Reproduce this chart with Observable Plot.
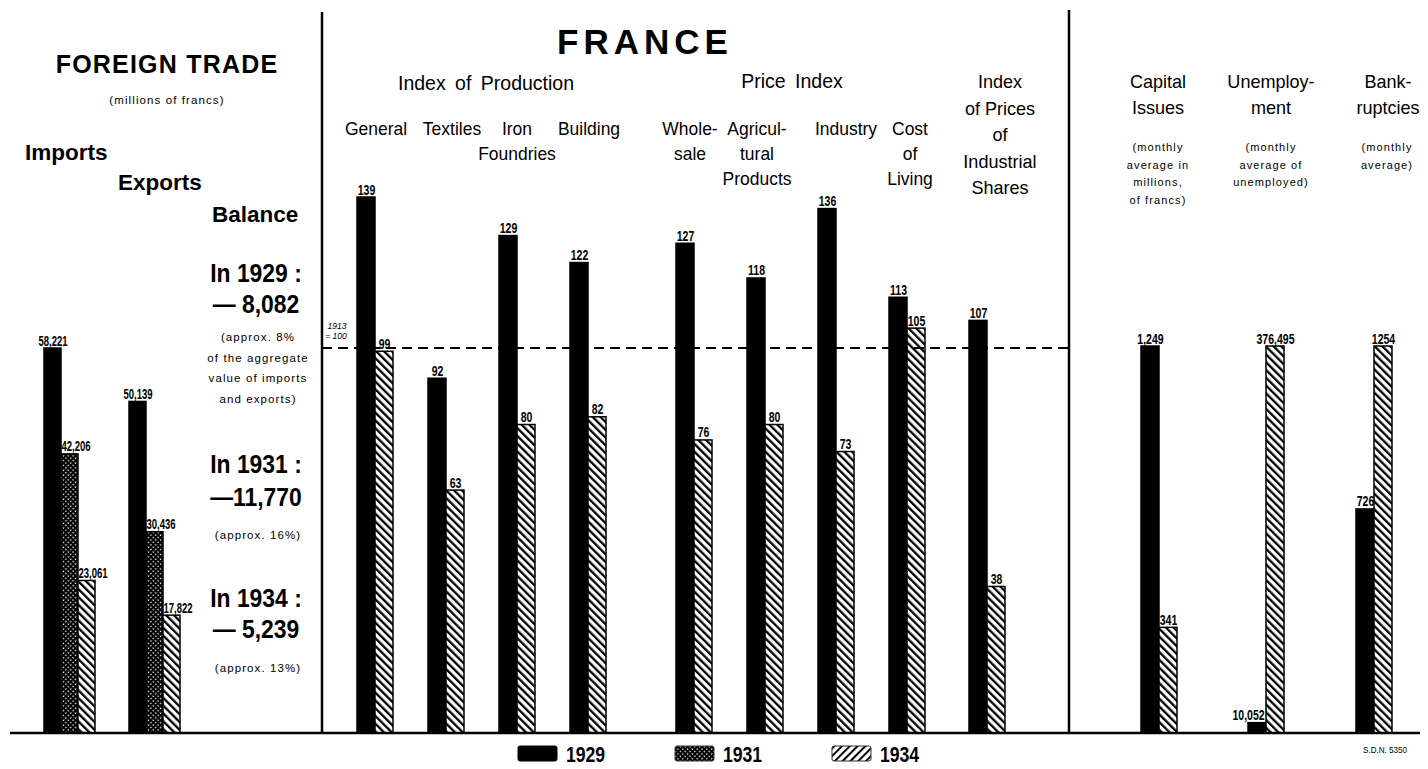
<!DOCTYPE html>
<html>
<head>
<meta charset="utf-8">
<script src="https://cdn.jsdelivr.net/npm/d3@7"></script>
<script src="https://cdn.jsdelivr.net/npm/@observablehq/plot@0.6"></script>
<style>
html, body { margin: 0; padding: 0; background: #fff; }
#chart { position: relative; width: 1428px; height: 769px; overflow: hidden; background: #fff; }
</style>
</head>
<body>
<div id="chart"></div>
<script>
// ---------------- DATA ----------------
const years3 = ["1929", "1931", "1934"];
const years2 = ["1929", "1934"];

const tradeGroups = ["Imports", "Exports"];
const imports = [58221, 42206, 23061];
const exportsVals = [50139, 30436, 17822];
const balanceLabels = ["— 8,082", "—11,770", "— 5,239"];
const balanceNotes = [
  ["(approx. 8%", "of the aggregate", "value of imports", "and exports)"],
  ["(approx. 16%)"],
  ["(approx. 13%)"]
];

const productionCats = ["General", "Textiles", "Iron Foundries", "Building"];
const production1929 = [139, 92, 129, 122];
const production1934 = [99, 63, 80, 82];

const priceCats = ["Wholesale", "Agricultural Products", "Industry", "Cost of Living"];
const price1929 = [127, 118, 136, 113];
const price1934 = [76, 80, 73, 105];

const sharesCats = ["Index of Prices of Industrial Shares"];
const shares1929 = [107];
const shares1934 = [38];

const otherCats = ["Capital Issues", "Unemployment", "Bankruptcies"];
const other1929 = [1249, 10052, 726];
const other1934 = [341, 376495, 1254];
const otherLabels1929 = ["1,249", "10,052", "726"];
const otherLabels1934 = ["341", "376,495", "1254"];

const baseIndex = 100; // 1913 = 100

// ---------------- LAYOUT ----------------
const W = 1428, H = 769, BASE = 733;
const SANS = "'Liberation Sans', Arial, Helvetica, sans-serif";
const chart = document.getElementById("chart");
const FILL = { "1929": "black", "1931": "url(#p1931)", "1934": "url(#p1934)" };

// pattern defs
const defsSvg = d3.select(chart).append("svg")
  .attr("width", 0).attr("height", 0)
  .style("position", "absolute").style("left", 0).style("top", 0);
const defs = defsSvg.append("defs");
function stripePattern(id, angle, period, w) {
  const p = defs.append("pattern").attr("id", id)
    .attr("patternUnits", "userSpaceOnUse")
    .attr("width", period).attr("height", period)
    .attr("patternTransform", `rotate(${angle})`);
  p.append("rect").attr("width", period).attr("height", period).attr("fill", "white");
  p.append("rect").attr("width", w).attr("height", period).attr("fill", "black");
}
stripePattern("p1934", -45, 5.5, 2.3);
stripePattern("p1934L", 45, 5.5, 2.0);
{
  const p = defs.append("pattern").attr("id", "p1931")
    .attr("patternUnits", "userSpaceOnUse")
    .attr("width", 3.4).attr("height", 3.4)
    .attr("patternTransform", "rotate(45)");
  p.append("rect").attr("width", 3.4).attr("height", 3.4).attr("fill", "white");
  p.append("rect").attr("width", 2.1).attr("height", 3.4).attr("fill", "black");
  p.append("rect").attr("width", 3.4).attr("height", 2.1).attr("fill", "black");
}

function condense(sel, k) {
  sel.each(function () {
    const L = this.getComputedTextLength();
    if (L > 0) {
      this.setAttribute("textLength", L * k);
      this.setAttribute("lengthAdjust", "spacingAndGlyphs");
    }
  });
}

function place(node) {
  node.style.position = "absolute";
  node.style.left = "0px";
  node.style.top = "0px";
  node.style.background = "transparent";
  node.style.overflow = "visible";
  node.style.maxWidth = "none";
  chart.appendChild(node);
  return node;
}

function barPanel({ cats, yrs, series, labels, left, right, top, pad, yMax, fs = 15, dx = {}, k = 0.7 }) {
  const data = [];
  cats.forEach((c, i) => yrs.forEach((yr, j) => data.push({
    cat: c, year: yr, value: series[j][i],
    label: labels ? labels[j][i] : d3.format(",")(series[j][i])
  })));
  const marks = [];
  yrs.forEach(yr => marks.push(Plot.barY(data.filter(d => d.year === yr), {
    fx: "cat", x: "year", y: "value", fill: FILL[yr], stroke: "black", strokeWidth: 1.5
  })));
  yrs.forEach(yr => marks.push(Plot.text(data.filter(d => d.year === yr), {
    fx: "cat", x: "year", y: "value", text: "label", lineAnchor: "bottom",
    dy: -3, dx: dx[yr] || 0, fontSize: fs, fontWeight: "bold", fontFamily: SANS, fill: "black"
  })));
  const node = Plot.plot({
    width: W, height: H,
    marginLeft: left, marginRight: W - right, marginTop: top, marginBottom: H - BASE,
    fx: { domain: cats, paddingInner: pad, paddingOuter: 0, axis: null, label: null },
    x: { domain: yrs, padding: 0, axis: null, label: null },
    y: { domain: [0, yMax], axis: null, label: null },
    marks
  });
  place(node);
  condense(d3.select(node).selectAll("g[aria-label='text'] text"), k);
  return node;
}

// Foreign trade panel
barPanel({
  cats: tradeGroups, yrs: years3,
  series: years3.map((_, j) => [imports[j], exportsVals[j]]),
  left: 42, right: 182, top: 348, pad: 0.372,
  yMax: d3.max(imports.concat(exportsVals)), fs: 14, dx: { "1931": 6, "1934": 6 }, k: 0.68
});

// France middle panels (common scale)
const middleMax = d3.max([...production1929, ...production1934, ...price1929, ...price1934, ...shares1929, ...shares1934]);
barPanel({ cats: productionCats, yrs: years2, series: [production1929, production1934],
  left: 357, right: 607, top: 197, pad: 0.486, yMax: middleMax });
barPanel({ cats: priceCats, yrs: years2, series: [price1929, price1934],
  left: 676, right: 926, top: 197, pad: 0.486, yMax: middleMax });
barPanel({ cats: sharesCats, yrs: years2, series: [shares1929, shares1934],
  left: 969, right: 1005, top: 197, pad: 0, yMax: middleMax });

// dashed 1913 = 100 line
place(Plot.plot({
  width: W, height: H, marginLeft: 322, marginRight: W - 1069, marginTop: 197, marginBottom: H - BASE,
  y: { domain: [0, middleMax], axis: null },
  marks: [Plot.ruleY([baseIndex], { stroke: "black", strokeWidth: 2, strokeDasharray: "10,6" })]
}));

// right panels, each with its own scale
const rightLeft = [1140, 1247, 1355];
otherCats.forEach((c, i) => {
  barPanel({
    cats: [c], yrs: years2,
    series: [[other1929[i]], [other1934[i]]],
    labels: [[otherLabels1929[i]], [otherLabels1934[i]]],
    left: rightLeft[i], right: rightLeft[i] + 37, top: 346, pad: 0,
    yMax: Math.max(other1929[i], other1934[i]),
    dx: i === 1 ? { "1929": -9 } : {}
  });
});

// ---------------- ANNOTATIONS ----------------
const ov = d3.select(chart).append("svg")
  .attr("width", W).attr("height", H)
  .style("position", "absolute").style("left", 0).style("top", 0)
  .style("font-family", SANS);

// frame lines
ov.append("line").attr("x1", 10).attr("x2", 1420).attr("y1", BASE).attr("y2", BASE)
  .attr("stroke", "black").attr("stroke-width", 2.5);
ov.append("line").attr("x1", 322).attr("x2", 322).attr("y1", 12).attr("y2", BASE + 1)
  .attr("stroke", "black").attr("stroke-width", 2.5);
ov.append("line").attr("x1", 1069).attr("x2", 1069).attr("y1", 10).attr("y2", BASE + 1)
  .attr("stroke", "black").attr("stroke-width", 2.5);

function tx(t, x, y, o = {}) {
  const el = ov.append("text").attr("x", x).attr("y", y)
    .attr("text-anchor", o.a || "middle")
    .attr("font-size", o.fs || 19.5)
    .attr("font-weight", o.fw || 400)
    .attr("fill", "black")
    .text(t);
  if (o.ls) el.attr("letter-spacing", o.ls);
  if (o.ws) el.attr("word-spacing", o.ws);
  if (o.it) el.attr("font-style", "italic");
  if (o.k) condense(el, o.k);
  return el;
}
function lines(arr, x, y0, step, o) { arr.forEach((t, i) => tx(t, x, y0 + i * step, o)); }

// left panel texts
tx("FOREIGN TRADE", 167, 73, { fs: 25, fw: 700, ls: 1.2 });
tx("(millions of francs)", 167, 104, { fs: 11.5, ls: 1.1 });
tx("Imports", 25, 160, { fs: 22.5, fw: 700, a: "start" });
tx("Exports", 118, 190, { fs: 22.5, fw: 700, a: "start" });
tx("Balance", 212, 222, { fs: 22.5, fw: 700, a: "start" });
const balHeadY = [282, 473, 607], balValY = [313, 506, 638], balNoteY = [341, 539, 672];
years3.forEach((yr, i) => {
  tx(`In ${yr} :`, 256, balHeadY[i], { fs: 26, fw: 700, k: 0.88 });
  tx(balanceLabels[i], 256, balValY[i], { fs: 26, fw: 700, k: 0.88 });
  lines(balanceNotes[i], 258, balNoteY[i], 20.6, { fs: 11.5, ls: 1.1 });
});

// middle texts
tx("FRANCE", 645, 54, { fs: 35, fw: 700, ls: 5 });
tx("Index of Production", 486, 90, { fs: 19.5, ws: 4 });
tx("Price Index", 792, 88, { fs: 19.5, ws: 4 });
const catLines = [
  [["General"], 376], [["Textiles"], 452], [["Iron", "Foundries"], 517], [["Building"], 589],
  [["Whole-", "sale"], 690], [["Agricul-", "tural", "Products"], 757], [["Industry"], 846],
  [["Cost", "of", "Living"], 910]
];
catLines.forEach(([arr, x]) => lines(arr, x, 135, 25, { fs: 19, k: 0.92 }));
lines(["Index", "of Prices", "of", "Industrial", "Shares"], 1000, 88, 26.5, { fs: 19, k: 0.95 });
tx("1913", 337, 329, { fs: 8.5, it: true });
tx("= 100", 336, 339, { fs: 8.5, it: true });

// right texts
const rightHead = [[["Capital", "Issues"], 1158], [["Unemploy-", "ment"], 1271], [["Bank-", "ruptcies"], 1388]];
rightHead.forEach(([arr, x]) => lines(arr, x, 88, 26, { fs: 19, k: 0.95 }));
const rightNotes = [
  [["(monthly", "average in", "millions,", "of francs)"], 1158],
  [["(monthly", "average of", "unemployed)"], 1271],
  [["(monthly", "average)"], 1387]
];
rightNotes.forEach(([arr, x]) => lines(arr, x, 151, 17.7, { fs: 11, ls: 1.1 }));

// legend
const legendX = [518, 675, 832];
const legendFill = { "1929": "black", "1931": "url(#p1931)", "1934": "url(#p1934L)" };
years3.forEach((yr, i) => {
  ov.append("rect").attr("x", legendX[i]).attr("y", 746).attr("width", 39).attr("height", 15)
    .attr("rx", 2).attr("fill", legendFill[yr]).attr("stroke", i === 0 ? "black" : "#333").attr("stroke-width", 1);
  tx(yr, legendX[i] + 48, 762, { fs: 22, fw: 700, a: "start", k: 0.8 });
});
tx("S.D.N. 5350", 1385, 753, { fs: 9.5, k: 0.85 });
</script>
</body>
</html>
